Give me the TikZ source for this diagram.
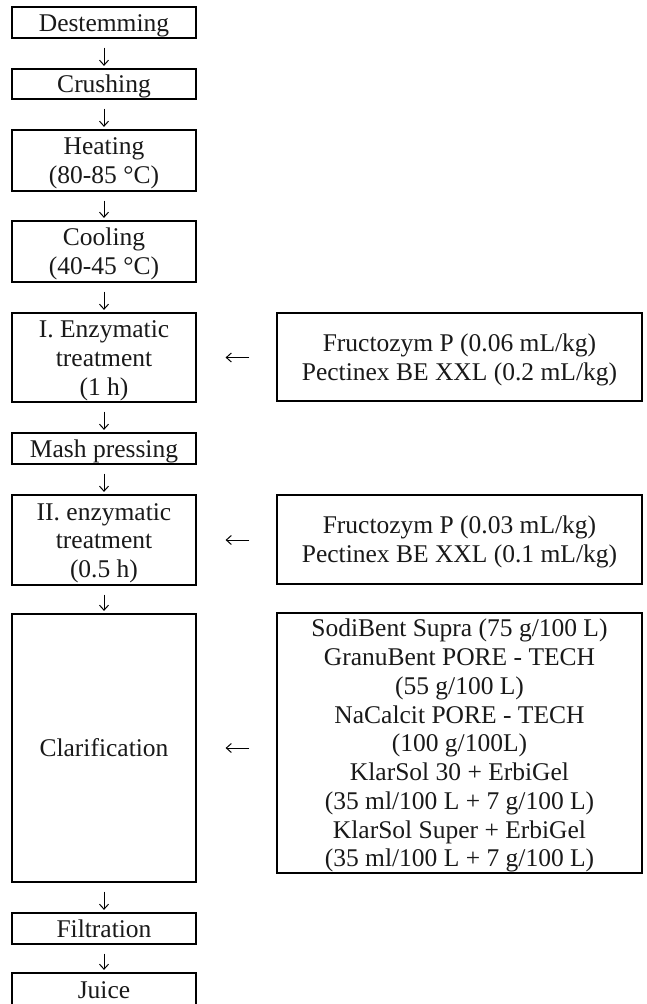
\documentclass[tikz,border=0pt]{standalone}
\usepackage{fontspec}
\setmainfont{Liberation Serif}
\usetikzlibrary{arrows.meta}
\newcommand\bxt[1]{\raisebox{-3pt}[\height][\depth]{\begin{tabular}{@{}c@{}}#1\end{tabular}}}
\begin{document}
\begin{tikzpicture}[x=1pt,y=-1pt,
  box/.style={draw=black,line width=1.2pt,inner sep=0pt,
    font=\fontsize{25.5}{28.75}\selectfont,text=black!90},
  lbox/.style={box,minimum width=184pt},
  rbox/.style={box,minimum width=365pt},
  down/.style={line width=1pt,-{Straight Barb[length=5pt,width=9pt,line width=1pt]},shorten <=9pt,shorten >=2.5pt},
  side/.style={line width=1pt,-{Straight Barb[length=5pt,width=9pt,line width=1pt]}}
]
\useasboundingbox (0,0) rectangle (647,1004);
\node[lbox,minimum height=31pt] (d) at (104,22.5) {\bxt{Destemming}};
\node[lbox,minimum height=30pt] (c) at (104,84) {\bxt{Crushing}};
\node[lbox,minimum height=61pt] (h) at (104,160.5) {\bxt{Heating\\(80-85 °C)}};
\node[lbox,minimum height=61pt] (co) at (104,251.5) {\bxt{Cooling\\(40-45 °C)}};
\node[lbox,minimum height=89pt] (e1) at (104,357.5) {\bxt{I. Enzymatic\\treatment\\(1 h)}};
\node[lbox,minimum height=31pt] (m) at (104,448.5) {\bxt{Mash pressing}};
\node[lbox,minimum height=90pt] (e2) at (104,540) {\bxt{II. enzymatic\\treatment\\(0.5 h)}};
\node[lbox,minimum height=268pt] (cl) at (104,748) {\bxt{Clarification}};
\node[lbox,minimum height=31pt] (f) at (104,928.5) {\bxt{Filtration}};
\node[lbox,minimum height=33pt] (j) at (104,989.5) {\bxt{Juice}};
\node[rbox,minimum height=88pt] (r1) at (459.5,357) {\bxt{Fructozym P (0.06 mL/kg)\\Pectinex BE XXL (0.2 mL/kg)}};
\node[rbox,minimum height=89pt] (r2) at (459.5,539.5) {\bxt{Fructozym P (0.03 mL/kg)\\Pectinex BE XXL (0.1 mL/kg)}};
\node[rbox,minimum height=260pt] (r3) at (459.5,743) {\bxt{SodiBent Supra (75 g/100 L)\\GranuBent PORE - TECH\\(55 g/100 L)\\NaCalcit PORE - TECH\\(100 g/100L)\\KlarSol 30 + ErbiGel\\(35 ml/100 L + 7 g/100 L)\\KlarSol Super + ErbiGel\\(35 ml/100 L + 7 g/100 L)}};
\draw[down] (d) -- (c);
\draw[down] (c) -- (h);
\draw[down] (h) -- (co);
\draw[down] (co) -- (e1);
\draw[down] (e1) -- (m);
\draw[down] (m) -- (e2);
\draw[down] (e2) -- (cl);
\draw[down] (cl) -- (f);
\draw[down] (f) -- (j);
\draw[side,shorten <=27pt,shorten >=29pt] (r1.west |- e1.east) -- (e1.east);
\draw[side,shorten <=27pt,shorten >=29pt] (r2.west |- e2.east) -- (e2.east);
\draw[side,shorten <=27pt,shorten >=29pt] (r3.west |- cl.east) -- (cl.east);
\end{tikzpicture}
\end{document}
